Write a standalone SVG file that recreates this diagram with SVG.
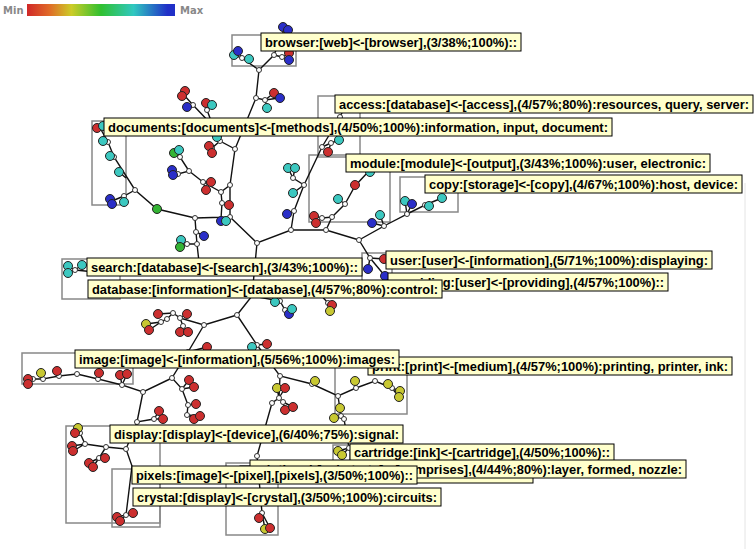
<svg xmlns="http://www.w3.org/2000/svg" width="756" height="549" viewBox="0 0 756 549">
<defs>
<linearGradient id="leg" x1="0" x2="1" y1="0" y2="0">
<stop offset="0" stop-color="#d02828"/>
<stop offset="0.15" stop-color="#e06a28"/>
<stop offset="0.3" stop-color="#cccc28"/>
<stop offset="0.5" stop-color="#30c030"/>
<stop offset="0.72" stop-color="#30c8c0"/>
<stop offset="0.95" stop-color="#2030c8"/>
<stop offset="1" stop-color="#2030c8"/>
</linearGradient>
</defs>
<style>
.e{stroke:#111;stroke-width:1.4;fill:none}
.bx{fill:none;stroke:#888;stroke-width:1.5}
.j{fill:#fff;stroke:#333;stroke-width:1}
.r,.c,.b,.g,.y{stroke:#222;stroke-width:1}
.r{fill:#cc2f2f}.c{fill:#3cc8c0}.b{fill:#2a2ec8}.g{fill:#34b434}.y{fill:#c8c832}
.lb rect{fill:#ffffcc;stroke:#000;stroke-width:1}
.lb text{font-family:"Liberation Sans",Arial,sans-serif;font-weight:bold;font-size:12.5px;fill:#000}
.lg{font-family:"DejaVu Sans",Verdana,sans-serif;font-weight:bold;font-size:10px;fill:#888}
</style>
<rect width="756" height="549" fill="#fff"/>
<g id="legend">
<text class="lg" x="3" y="14">Min</text>
<rect x="27" y="4" width="148" height="12" fill="url(#leg)"/>
<text class="lg" x="180" y="14">Max</text>
</g>
<line x1="745" y1="183" x2="745" y2="549" stroke="#e4e4e4" stroke-width="1"/>
<g id="boxes">
<rect class="bx" x="232" y="35" width="64" height="31"/>
<rect class="bx" x="318" y="96" width="42" height="61"/>
<rect class="bx" x="92" y="121" width="34" height="84"/>
<rect class="bx" x="309" y="155" width="81" height="67"/>
<rect class="bx" x="400" y="177" width="58" height="35"/>
<rect class="bx" x="62" y="259" width="58" height="40"/>
<rect class="bx" x="362" y="253" width="30" height="28"/>
<rect class="bx" x="22" y="353" width="111" height="31"/>
<rect class="bx" x="335" y="360" width="72" height="54"/>
<rect class="bx" x="66" y="426" width="94" height="97"/>
<rect class="bx" x="112" y="469" width="48" height="58"/>
<rect class="bx" x="226" y="463" width="52" height="72"/>
<rect class="bx" x="333" y="445" width="17" height="16"/>
</g>
<g id="connectors">
<path class="e" d="M259,70 L274,55 L284,30 M274,55 L282,57 L289,54 M282,57 L289,60 M259,70 L242,58 L234,55 M242,58 L238,51 M242,58 L249,59"/>
<path class="e" d="M259,70 L256,98 L265,100 L274,93 M265,100 L279,98 M265,100 L267,108 M256,98 L235,149"/>
<path class="e" d="M235,149 L220,141 L213,126 L207,110 L206,104 M207,110 L212,105 M213,126 L193,105 L183,94 M193,105 L188,107 M220,141 L217,137 M220,141 L212,148 L209,146 M212,148 L212,153"/>
<path class="e" d="M235,149 L230,185 L221,192 L203,182 L189,171 L178,174 L172,170 M178,174 L173,175 M189,171 L180,157 L174,153 M180,157 L179,150 M203,182 L211,182 M203,182 L206,190"/>
<path class="e" d="M221,192 L222,203 L221,219 M222,203 L229,205 M230,185 L230,217 L195,218 L157,209 L135,190 L114,157 L108,142 L100,128 M108,142 L103,141 M114,157 L110,156 M126,178 L119,172 M100,128 L97,128 M100,128 L103,126 M135,190 L124,196 L112,201 M124,196 L124,202 M226,221 L230,217"/>
<path class="e" d="M195,218 L196,232 L204,236 M196,232 L197,244 L187,244 L181,240 M187,244 L180,247 M197,244 L199,262 M75,270 L95,272 M75,270 L68,266 M75,270 L68,273 M75,270 L82,265"/>
<path class="e" d="M230,217 L257,243 L291,230 L326,230 L359,240 M291,230 L294,211 L287,214 M294,211 L304,185 L293,193 M304,185 L293,178 L288,168 M293,178 L295,168 M304,185 L322,147 L331,143 L339,140 M331,143 L328,152 M322,147 L340,117 L348,100"/>
<path class="e" d="M326,230 L332,217 L322,218 L314,216 M322,218 L316,223 M332,217 L345,204 L338,199 M345,204 L355,186 L368,172"/>
<path class="e" d="M359,240 L384,226 L372,223 M384,226 L380,215 M384,226 L407,214 L405,201 M407,214 L412,204 M407,214 L425,205 L429,206 M425,205 L442,198 M359,240 L370,258 L368,269 M370,258 L384,259 M370,258 L385,276"/>
<path class="e" d="M257,243 L252,296 L237,315 M252,296 L280,301 L275,302 M280,301 L285,310 L289,314 M285,310 L292,309 M318,292 L328,303 L332,305 M328,303 L330,310"/>
<path class="e" d="M237,315 L204,325 L180,318 L187,314 M180,318 L183,326 L180,332 M183,326 L188,332 M180,318 L173,313 L158,314 M173,313 L167,319 L161,322 L146,324 M161,322 L149,330"/>
<path class="e" d="M204,325 L188,352 L172,378 L182,389 L189,380 M182,389 L194,387 M182,389 L188,405 L196,404 M188,405 L187,415 L194,419 M187,415 L200,416 M188,352 L207,347"/>
<path class="e" d="M172,378 L143,392 L122,385 L120,375 M122,385 L127,374 M122,385 L98,379 L99,373 M98,379 L77,374 L59,376 L57,371 M59,376 L43,379 L41,373 M43,379 L33,379 L28,379 M33,379 L28,384"/>
<path class="e" d="M143,392 L137,422 L154,419 L159,411 M154,419 L163,419 M137,422 L126,449 L106,447 L85,444 L72,446 M85,444 L73,451 M85,444 L80,433 L75,433 M80,433 L78,428 M106,447 L99,458 L105,458 M99,458 L89,463 M99,458 L93,467 M126,449 L132,466 L126,515 L117,517 M126,515 L120,521 M126,515 L133,513"/>
<path class="e" d="M237,315 L257,345 L252,347 M257,345 L267,344 M257,345 L280,376 L312,384 L338,396 L356,388 L355,381 M356,388 L375,381 L392,388 L388,384 M392,388 L400,391 M392,388 L399,397 M312,384 L315,381"/>
<path class="e" d="M338,396 L341,416 L340,408 M341,416 L334,418 M341,416 L344,419 L349,448 L338,451 M349,448 L342,455"/>
<path class="e" d="M280,376 L279,398 L277,388 M279,398 L285,388 M279,398 L283,402 L285,410 M283,402 L293,407 M279,398 L272,403 L257,456 L262,513 L259,518 M262,513 L265,529 M262,513 L270,528"/>
</g>
<g id="junctions">
<circle class="j" cx="259" cy="70" r="2.5"/><circle class="j" cx="274" cy="55" r="2.5"/><circle class="j" cx="282" cy="57" r="2.5"/><circle class="j" cx="242" cy="58" r="2.5"/>
<circle class="j" cx="256" cy="98" r="2.5"/><circle class="j" cx="265" cy="100" r="2.5"/><circle class="j" cx="235" cy="149" r="2.5"/><circle class="j" cx="220" cy="141" r="2.5"/>
<circle class="j" cx="213" cy="126" r="2.5"/><circle class="j" cx="207" cy="110" r="2.5"/><circle class="j" cx="193" cy="105" r="2.5"/><circle class="j" cx="212" cy="148" r="2.5"/>
<circle class="j" cx="230" cy="185" r="2.5"/><circle class="j" cx="221" cy="192" r="2.5"/><circle class="j" cx="203" cy="182" r="2.5"/><circle class="j" cx="189" cy="171" r="2.5"/>
<circle class="j" cx="178" cy="174" r="2.5"/><circle class="j" cx="180" cy="157" r="2.5"/><circle class="j" cx="222" cy="203" r="2.5"/><circle class="j" cx="230" cy="217" r="2.5"/>
<circle class="j" cx="195" cy="218" r="2.5"/><circle class="j" cx="135" cy="190" r="2.5"/><circle class="j" cx="114" cy="157" r="2.5"/><circle class="j" cx="108" cy="142" r="2.5"/>
<circle class="j" cx="124" cy="196" r="2.5"/><circle class="j" cx="196" cy="232" r="2.5"/><circle class="j" cx="197" cy="244" r="2.5"/><circle class="j" cx="187" cy="244" r="2.5"/>
<circle class="j" cx="75" cy="270" r="2.5"/><circle class="j" cx="257" cy="243" r="2.5"/><circle class="j" cx="291" cy="230" r="2.5"/><circle class="j" cx="326" cy="230" r="2.5"/>
<circle class="j" cx="359" cy="240" r="2.5"/><circle class="j" cx="294" cy="211" r="2.5"/><circle class="j" cx="304" cy="185" r="2.5"/><circle class="j" cx="293" cy="178" r="2.5"/>
<circle class="j" cx="322" cy="147" r="2.5"/><circle class="j" cx="331" cy="143" r="2.5"/><circle class="j" cx="340" cy="117" r="2.5"/><circle class="j" cx="332" cy="217" r="2.5"/>
<circle class="j" cx="322" cy="218" r="2.5"/><circle class="j" cx="345" cy="204" r="2.5"/><circle class="j" cx="384" cy="226" r="2.5"/><circle class="j" cx="407" cy="214" r="2.5"/>
<circle class="j" cx="425" cy="205" r="2.5"/><circle class="j" cx="370" cy="258" r="2.5"/><circle class="j" cx="280" cy="301" r="2.5"/><circle class="j" cx="285" cy="310" r="2.5"/>
<circle class="j" cx="328" cy="303" r="2.5"/><circle class="j" cx="237" cy="315" r="2.5"/><circle class="j" cx="204" cy="325" r="2.5"/><circle class="j" cx="180" cy="318" r="2.5"/>
<circle class="j" cx="183" cy="326" r="2.5"/><circle class="j" cx="173" cy="313" r="2.5"/><circle class="j" cx="167" cy="319" r="2.5"/><circle class="j" cx="161" cy="322" r="2.5"/>
<circle class="j" cx="188" cy="352" r="2.5"/><circle class="j" cx="172" cy="378" r="2.5"/><circle class="j" cx="182" cy="389" r="2.5"/><circle class="j" cx="188" cy="405" r="2.5"/>
<circle class="j" cx="187" cy="415" r="2.5"/><circle class="j" cx="143" cy="392" r="2.5"/><circle class="j" cx="122" cy="385" r="2.5"/><circle class="j" cx="98" cy="379" r="2.5"/>
<circle class="j" cx="77" cy="374" r="2.5"/><circle class="j" cx="59" cy="376" r="2.5"/><circle class="j" cx="43" cy="379" r="2.5"/><circle class="j" cx="33" cy="379" r="2.5"/>
<circle class="j" cx="137" cy="422" r="2.5"/><circle class="j" cx="154" cy="419" r="2.5"/><circle class="j" cx="126" cy="449" r="2.5"/><circle class="j" cx="106" cy="447" r="2.5"/>
<circle class="j" cx="85" cy="444" r="2.5"/><circle class="j" cx="80" cy="433" r="2.5"/><circle class="j" cx="99" cy="458" r="2.5"/><circle class="j" cx="126" cy="515" r="2.5"/>
<circle class="j" cx="257" cy="345" r="2.5"/><circle class="j" cx="280" cy="376" r="2.5"/><circle class="j" cx="312" cy="384" r="2.5"/><circle class="j" cx="338" cy="396" r="2.5"/>
<circle class="j" cx="356" cy="388" r="2.5"/><circle class="j" cx="375" cy="381" r="2.5"/><circle class="j" cx="392" cy="388" r="2.5"/><circle class="j" cx="341" cy="416" r="2.5"/>
<circle class="j" cx="344" cy="419" r="2.5"/><circle class="j" cx="349" cy="448" r="2.5"/><circle class="j" cx="279" cy="398" r="2.5"/><circle class="j" cx="283" cy="402" r="2.5"/>
<circle class="j" cx="272" cy="403" r="2.5"/><circle class="j" cx="257" cy="456" r="2.5"/><circle class="j" cx="262" cy="513" r="2.5"/>
</g>
<g id="leaves">
<circle class="b" cx="283" cy="27" r="4.5"/><circle class="b" cx="288" cy="30" r="4.5"/>
<circle class="r" cx="289" cy="53" r="4.5"/><circle class="b" cx="289" cy="60" r="4.5"/>
<circle class="c" cx="234" cy="55" r="4.5"/><circle class="b" cx="238" cy="51" r="4.5"/><circle class="c" cx="249" cy="59" r="4.5"/>
<circle class="r" cx="274" cy="93" r="4.5"/><circle class="b" cx="280" cy="98" r="4.5"/><circle class="c" cx="267" cy="108" r="4.5"/>
<circle class="r" cx="185" cy="91" r="4.5"/><circle class="r" cx="182" cy="96" r="4.5"/><circle class="b" cx="187" cy="107" r="4.5"/>
<circle class="r" cx="206" cy="103" r="4.5"/><circle class="c" cx="212" cy="105" r="4.5"/>
<circle class="c" cx="217" cy="137" r="4.5"/><circle class="r" cx="209" cy="146" r="4.5"/><circle class="r" cx="212" cy="153" r="4.5"/>
<circle class="r" cx="97" cy="128" r="4.5"/><circle class="c" cx="103" cy="126" r="4.5"/><circle class="c" cx="103" cy="141" r="4.5"/><circle class="c" cx="110" cy="156" r="4.5"/><circle class="c" cx="119" cy="172" r="4.5"/>
<circle class="g" cx="174" cy="153" r="4.5"/><circle class="c" cx="179" cy="150" r="4.5"/>
<circle class="b" cx="172" cy="170" r="4.5"/><circle class="b" cx="173" cy="175" r="4.5"/>
<circle class="r" cx="211" cy="182" r="4.5"/><circle class="r" cx="206" cy="190" r="4.5"/>
<circle class="r" cx="229" cy="205" r="4.5"/><circle class="b" cx="221" cy="221" r="4.5"/><circle class="c" cx="226" cy="221" r="4.5"/>
<circle class="g" cx="157" cy="209" r="4.5"/>
<circle class="b" cx="110" cy="199" r="4.5"/><circle class="b" cx="112" cy="204" r="4.5"/><circle class="c" cx="124" cy="202" r="4.5"/>
<circle class="b" cx="204" cy="236" r="4.5"/><circle class="c" cx="181" cy="240" r="4.5"/><circle class="g" cx="180" cy="247" r="4.5"/>
<circle class="c" cx="68" cy="266" r="4.5"/><circle class="c" cx="68" cy="273" r="4.5"/><circle class="c" cx="82" cy="265" r="4.5"/>
<circle class="b" cx="287" cy="214" r="4.5"/><circle class="c" cx="293" cy="193" r="4.5"/>
<circle class="c" cx="288" cy="168" r="4.5"/><circle class="c" cx="295" cy="168" r="4.5"/>
<circle class="c" cx="339" cy="140" r="4.5"/><circle class="r" cx="328" cy="152" r="4.5"/>
<circle class="r" cx="314" cy="216" r="4.5"/><circle class="r" cx="316" cy="223" r="4.5"/>
<circle class="c" cx="338" cy="199" r="4.5"/><circle class="r" cx="355" cy="185" r="4.5"/><circle class="c" cx="370" cy="172" r="4.5"/>
<circle class="b" cx="372" cy="223" r="4.5"/><circle class="c" cx="380" cy="215" r="4.5"/>
<circle class="c" cx="405" cy="201" r="4.5"/><circle class="b" cx="412" cy="204" r="4.5"/><circle class="c" cx="429" cy="206" r="4.5"/><circle class="c" cx="442" cy="198" r="4.5"/>
<circle class="b" cx="368" cy="269" r="4.5"/><circle class="r" cx="384" cy="259" r="4.5"/><circle class="b" cx="385" cy="276" r="4.5"/>
<circle class="c" cx="275" cy="302" r="4.5"/><circle class="b" cx="289" cy="314" r="4.5"/><circle class="c" cx="292" cy="309" r="4.5"/>
<circle class="r" cx="332" cy="305" r="4.5"/><circle class="y" cx="330" cy="311" r="4.5"/>
<circle class="r" cx="158" cy="314" r="4.5"/><circle class="r" cx="187" cy="314" r="4.5"/>
<circle class="y" cx="146" cy="324" r="4.5"/><circle class="r" cx="149" cy="330" r="4.5"/>
<circle class="r" cx="180" cy="332" r="4.5"/><circle class="r" cx="188" cy="332" r="4.5"/>
<circle class="r" cx="207" cy="347" r="4.5"/><circle class="c" cx="252" cy="347" r="4.5"/><circle class="r" cx="267" cy="344" r="4.5"/>
<circle class="r" cx="189" cy="380" r="4.5"/><circle class="r" cx="194" cy="387" r="4.5"/><circle class="r" cx="196" cy="404" r="4.5"/>
<circle class="r" cx="194" cy="419" r="4.5"/><circle class="r" cx="200" cy="416" r="4.5"/>
<circle class="r" cx="120" cy="375" r="4.5"/><circle class="r" cx="127" cy="374" r="4.5"/><circle class="r" cx="99" cy="373" r="4.5"/>
<circle class="r" cx="57" cy="371" r="4.5"/><circle class="y" cx="41" cy="373" r="4.5"/><circle class="r" cx="28" cy="379" r="4.5"/><circle class="r" cx="28" cy="384" r="4.5"/>
<circle class="r" cx="159" cy="411" r="4.5"/><circle class="r" cx="163" cy="419" r="4.5"/>
<circle class="y" cx="78" cy="428" r="4.5"/><circle class="r" cx="75" cy="433" r="4.5"/><circle class="r" cx="72" cy="446" r="4.5"/><circle class="r" cx="73" cy="451" r="4.5"/>
<circle class="r" cx="105" cy="458" r="4.5"/><circle class="r" cx="89" cy="463" r="4.5"/><circle class="r" cx="93" cy="467" r="4.5"/>
<circle class="r" cx="117" cy="517" r="4.5"/><circle class="r" cx="120" cy="521" r="4.5"/><circle class="r" cx="133" cy="513" r="4.5"/>
<circle class="y" cx="315" cy="381" r="4.5"/><circle class="y" cx="355" cy="381" r="4.5"/><circle class="y" cx="388" cy="384" r="4.5"/>
<circle class="y" cx="400" cy="391" r="4.5"/><circle class="y" cx="399" cy="397" r="4.5"/>
<circle class="y" cx="340" cy="408" r="4.5"/><circle class="y" cx="334" cy="418" r="4.5"/>
<circle class="y" cx="338" cy="451" r="4.5"/><circle class="y" cx="342" cy="455" r="4.5"/>
<circle class="y" cx="277" cy="388" r="4.5"/><circle class="r" cx="285" cy="388" r="4.5"/>
<circle class="r" cx="285" cy="410" r="4.5"/><circle class="r" cx="293" cy="407" r="4.5"/>
<circle class="r" cx="259" cy="518" r="4.5"/><circle class="y" cx="265" cy="529" r="4.5"/><circle class="r" cx="270" cy="528" r="4.5"/>
</g>
<g id="label-browser" class="lb"><rect x="261" y="33" width="260" height="18"/><text x="265" y="47" textLength="252" lengthAdjust="spacingAndGlyphs">browser:[web]&lt;-[browser],(3/38%;100%)::</text></g>
<g id="label-access" class="lb"><rect x="335" y="95" width="418" height="18"/><text x="339" y="109" textLength="410" lengthAdjust="spacingAndGlyphs">access:[database]&lt;-[access],(4/57%;80%):resources, query, server:</text></g>
<g id="label-documents" class="lb"><rect x="104" y="118" width="508" height="18"/><text x="108" y="132" textLength="500" lengthAdjust="spacingAndGlyphs">documents:[documents]&lt;-[methods],(4/50%;100%):information, input, document:</text></g>
<g id="label-module" class="lb"><rect x="346" y="154" width="364" height="18"/><text x="350" y="168" textLength="356" lengthAdjust="spacingAndGlyphs">module:[module]&lt;-[output],(3/43%;100%):user, electronic:</text></g>
<g id="label-copy" class="lb"><rect x="425" y="175" width="317" height="18"/><text x="429" y="189" textLength="309" lengthAdjust="spacingAndGlyphs">copy:[storage]&lt;-[copy],(4/67%;100%):host, device:</text></g>
<g id="label-user" class="lb"><rect x="386" y="251" width="326" height="18"/><text x="390" y="265" textLength="318" lengthAdjust="spacingAndGlyphs">user:[user]&lt;-[information],(5/71%;100%):displaying:</text></g>
<g id="label-providing" class="lb"><rect x="388" y="273" width="280" height="18"/><text x="392" y="287" textLength="272" lengthAdjust="spacingAndGlyphs">providing:[user]&lt;-[providing],(4/57%;100%)::</text></g>
<g id="label-search" class="lb"><rect x="87" y="258" width="275" height="18"/><text x="91" y="272" textLength="267" lengthAdjust="spacingAndGlyphs">search:[database]&lt;-[search],(3/43%;100%)::</text></g>
<g id="label-database" class="lb"><rect x="88" y="280" width="354" height="18"/><text x="92" y="294" textLength="346" lengthAdjust="spacingAndGlyphs">database:[information]&lt;-[database],(4/57%;80%):control:</text></g>
<g id="label-print" class="lb"><rect x="368" y="357" width="364" height="18"/><text x="372" y="371" textLength="356" lengthAdjust="spacingAndGlyphs">print:[print]&lt;-[medium],(4/57%;100%):printing, printer, ink:</text></g>
<g id="label-image" class="lb"><rect x="75" y="350" width="324" height="18"/><text x="79" y="364" textLength="316" lengthAdjust="spacingAndGlyphs">image:[image]&lt;-[information],(5/56%;100%):images:</text></g>
<g id="label-display" class="lb"><rect x="110" y="425" width="293" height="18"/><text x="114" y="439" textLength="285" lengthAdjust="spacingAndGlyphs">display:[display]&lt;-[device],(6/40%;75%):signal:</text></g>
<g id="label-hidden" class="lb"><rect x="240" y="466" width="293" height="17"/></g>
<g id="label-cartridge" class="lb"><rect x="350" y="444" width="264" height="17"/><text x="354" y="457" textLength="256" lengthAdjust="spacingAndGlyphs">cartridge:[ink]&lt;-[cartridge],(4/50%;100%)::</text></g>
<g id="label-comprises" class="lb"><rect x="250" y="460" width="436" height="18"/><text x="254" y="474" textLength="428" lengthAdjust="spacingAndGlyphs">printhead:[substrate]&lt;-[comprises],(4/44%;80%):layer, formed, nozzle:</text></g>
<g id="label-pixels" class="lb"><rect x="132" y="466" width="285" height="18"/><text x="136" y="480" textLength="277" lengthAdjust="spacingAndGlyphs">pixels:[image]&lt;-[pixel],[pixels],(3/50%;100%)::</text></g>
<g id="label-crystal" class="lb"><rect x="133" y="488" width="308" height="18"/><text x="137" y="502" textLength="300" lengthAdjust="spacingAndGlyphs">crystal:[display]&lt;-[crystal],(3/50%;100%):circuits:</text></g>
</svg>
